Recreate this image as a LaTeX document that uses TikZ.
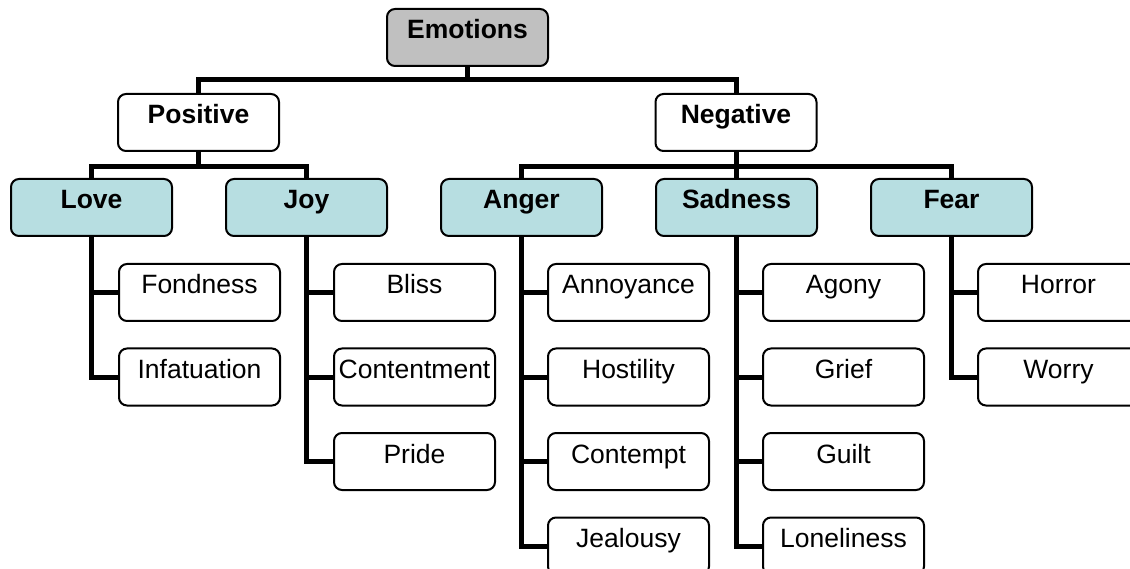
\documentclass[tikz,border=0pt]{standalone}
\usepackage{fontspec}
\setmainfont{Liberation Sans}
\usetikzlibrary{calc}
\definecolor{rootgray}{RGB}{192,192,192}
\definecolor{catteal}{RGB}{183,222,225}
\begin{document}
\begin{tikzpicture}[x=1pt,y=-1pt,
  box/.style={draw=black, line width=2pt, rounded corners=8pt, fill=white,
    anchor=north west, minimum width=161pt, inner xsep=0pt, inner ysep=0pt,
    text height=30pt, text depth=27pt,
    font=\fontsize{26.5}{30}\selectfont},
  head/.style={box, font=\fontsize{26.5}{30}\selectfont\bfseries},
  rootbox/.style={head, fill=rootgray},
  catbox/.style={head, fill=catteal},
  leaf/.style={box},
  conn/.style={line width=5pt}]
\useasboundingbox (0,0) rectangle (1130,569);

% top levels
\node[rootbox] (emo) at (386,8) {Emotions};
\node[head] (pos) at (117,93) {Positive};
\node[head] (neg) at (654.5,93) {Negative};

% categories
\node[catbox] (love) at (10,178) {Love};
\node[catbox] (joy) at (225,178) {Joy};
\node[catbox] (anger) at (440,178) {Anger};
\node[catbox] (sad) at (655,178) {Sadness};
\node[catbox] (fear) at (870,178) {Fear};

% leaves
\node[leaf] (fond) at (118,263) {Fondness};
\node[leaf] (infat) at (118,347.5) {Infatuation};

\node[leaf] (bliss) at (333,263) {Bliss};
\node[leaf] (content) at (333,347.5) {Contentment};
\node[leaf] (pride) at (333,432) {Pride};

\node[leaf] (annoy) at (547,263) {Annoyance};
\node[leaf] (host) at (547,347.5) {Hostility};
\node[leaf] (contempt) at (547,432) {Contempt};
\node[leaf] (jeal) at (547,516.5) {Jealousy};

\node[leaf] (agony) at (762,263) {Agony};
\node[leaf] (grief) at (762,347.5) {Grief};
\node[leaf] (guilt) at (762,432) {Guilt};
\node[leaf] (lonely) at (762,516.5) {Loneliness};

\node[leaf] (horror) at (977,263) {Horror};
\node[leaf] (worry) at (977,347.5) {Worry};

% connectors
\coordinate (b0) at ($(emo.south)+(0,13)$);
\draw[conn] (emo.south) -- (b0);
\draw[conn] (pos.north) |- (b0) -| (neg.north);

\coordinate (b1) at ($(pos.south)+(0,15)$);
\draw[conn] (pos.south) -- (b1);
\draw[conn] (love.north) |- (b1) -| (joy.north);

\coordinate (b2) at ($(neg.south)+(0,15)$);
\draw[conn] (neg.south) -- (b2);
\draw[conn] (anger.north) |- (b2) -| (fear.north);
\draw[conn] (sad.north) -- (sad.north |- b2);

\foreach \p/\c in {love/fond, love/infat,
                   joy/bliss, joy/content, joy/pride,
                   anger/annoy, anger/host, anger/contempt, anger/jeal,
                   sad/agony, sad/grief, sad/guilt, sad/lonely,
                   fear/horror, fear/worry}
  \draw[conn] (\p.south) |- (\c.west);
\end{tikzpicture}
\end{document}
